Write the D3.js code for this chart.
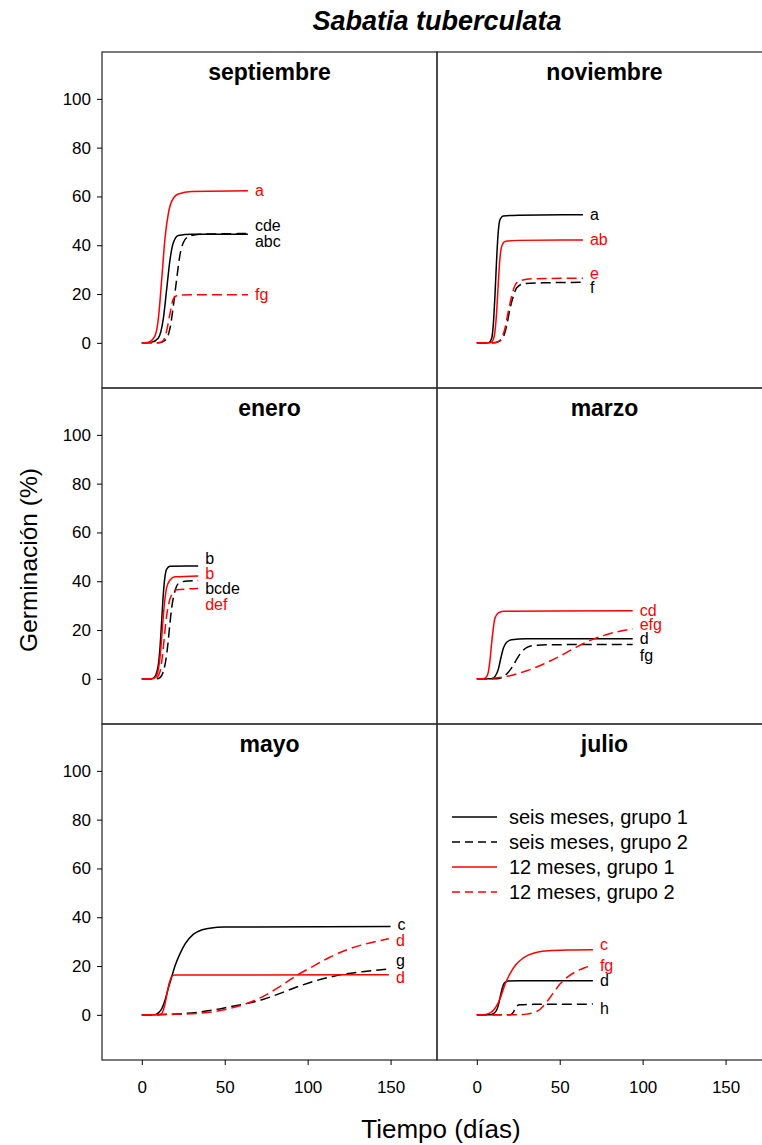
<!DOCTYPE html>
<html>
<head>
<meta charset="utf-8">
<script src="https://cdn.jsdelivr.net/npm/d3@7"></script>
<style>
  body { margin: 0; background: #fff; }
  svg { display: block; font-family: "Liberation Sans", Arial, sans-serif; }
</style>
</head>
<body>
<div id="chart"></div>
<script>
// panels, in reading order
const months = ["septiembre", "noviembre", "enero", "marzo", "mayo", "julio"];

// series: seis meses g1, seis meses g2, 12 meses g1, 12 meses g2
const seriesNames = ["seis meses, grupo 1", "seis meses, grupo 2", "12 meses, grupo 1", "12 meses, grupo 2"];

// curves, [day, % germinated]
const septiembre = [
    [[0,0],[6,0.3],[10,2],[13,10],[15,22],[17,34],[19,41],[22,44],[30,44.5],[64,44.5]],
    [[0,0],[10,0],[14,1],[17,6],[19,15],[21,26],[23,36],[25,41],[28,43.5],[35,44.5],[64,44.8]],
    [[0,0],[4,0.3],[8,3],[10,10],[12,26],[14,43],[16,53],[18,58],[22,61],[30,62],[64,62.3]],
    [[0,0],[10,0],[13,1],[15,5],[17,12],[19,18],[22,19.5],[30,19.7],[64,19.7]]
];
const noviembre = [
    [[0,0],[7,0],[9,2],[10,8],[11,20],[12,35],[13,46],[14,50.5],[16,52],[25,52.3],[64,52.5]],
    [[0,0],[10,0],[13,0.5],[16,2.5],[18,7],[20,14],[22,19],[24,22.5],[28,24.2],[40,24.6],[64,24.8]],
    [[0,0],[8,0],[10,1.5],[11,5],[12,13],[13,25],[14,35],[15,39.5],[17,41.5],[25,42],[64,42.2]],
    [[0,0],[10,0],[13,0.5],[15,2],[17,6],[19,13],[21,19],[23,23.5],[26,25.5],[35,26.3],[64,26.5]]
];
const enero = [
    [[0,0],[6,0],[8,1],[10,6],[11,13],[12,24],[13,35],[14,42],[15,45],[17,46.2],[34,46.3]],
    [[0,0],[9,0],[11,0.5],[13,3],[15,10],[16,16],[17,23],[18,29],[20,36],[22,39],[26,40],[34,40.3]],
    [[0,0],[6,0],[8,0.5],[10,4],[11,9],[12,17],[13,26],[14,33],[15,37.5],[17,40.5],[20,41.8],[34,42.2]],
    [[0,0],[7,0],[9,0.5],[11,3],[12,7],[13,13],[14,20],[15,26],[16,30],[18,34.5],[21,36.5],[34,37]]
];
const marzo = [
    [[0,0],[9,0],[11,1],[13,4],[14,7],[15,10],[16,12.5],[18,15],[21,16],[30,16.4],[94,16.4]],
    [[0,0],[12,0],[15,0.5],[18,2],[21,4.5],[24,8],[27,11],[30,12.8],[34,13.6],[45,14],[94,14.1]],
    [[0,0],[4,0],[6,1],[7,3],[8,8],[9,15],[10,21],[11,25],[13,27],[16,27.7],[94,27.9]],
    [[0,0],[10,0.3],[20,1.3],[30,3.3],[40,6],[50,9.3],[60,13],[70,16.2],[80,18.5],[94,20.5]]
];
const mayo = [
    [[0,0],[8,0],[10,0.8],[12,2.5],[14,6],[16,11],[18,15.5],[20,20],[23,25],[26,29],[31,33],[36,34.8],[41,35.5],[50,36],[150,36.2]],
    [[0,0],[15,0.2],[33,1],[43,2],[53,3.3],[63,4.6],[73,6.3],[83,8.7],[93,11.3],[103,13.6],[113,15.4],[123,16.8],[133,17.7],[149,18.8]],
    [[0,0],[10,0],[12,0.5],[13,2],[14,4.5],[15,8],[16,11.5],[17,14],[18,15.7],[20,16.3],[149,16.4]],
    [[0,0],[20,0.2],[33,0.6],[43,1.3],[53,2.6],[63,4.6],[73,7.5],[83,11.5],[93,16],[103,19.8],[113,23.5],[123,26.5],[133,28.7],[143,30.3],[149,31.2]]
];
const julio = [
    [[0,0],[8,0],[10,0.5],[12,2],[13,4],[14,7],[15,10],[16,12.3],[17,13.3],[19,13.9],[25,14],[70,14]],
    [[0,0],[20,0],[21,0.3],[22,1],[23,2.5],[24,3.6],[26,4.1],[35,4.3],[70,4.4]],
    [[0,0],[4,0],[7,0.5],[9,1.2],[11,2.7],[13,5],[15,8.5],[17,12.5],[19,15.5],[21,18],[23.5,20.5],[27,22.8],[31,24.5],[37,25.8],[43,26.3],[55,26.6],[70,26.7]],
    [[0,0],[25,0],[30,0.3],[34,0.8],[38,2.2],[41,4.3],[44,7],[47,9.8],[50,12.5],[53,14.6],[56,16.2],[60,17.8],[65,19.3],[70,20.3]]
];
const curves = [septiembre, noviembre, enero, marzo, mayo, julio];

// significance letters at the end of each curve (same series order)
const letters = [
    ["cde", "abc", "a", "fg"],
    ["a", "f", "ab", "e"],
    ["b", "bcde", "b", "def"],
    ["d", "fg", "cd", "efg"],
    ["c", "g", "d", "d"],
    ["d", "h", "c", "fg"]
];
// small vertical nudge (px) so letters don't sit on top of each other
const letterNudge = [
    [-9, 8, 0, 0],
    [0, 5, 0, -5],
    [-7, 8, -2, 16],
    [0, 11, 0, -4],
    [-2, -9, 3, 2],
    [0, 4, -5, 0]
];

const xTicks = [0, 50, 100, 150];
const yTicks = [0, 20, 40, 60, 80, 100];

const W = 762, H = 1145;
const padLeft = 102, padTop = 52, pw = 335, ph = 336;
const colors = ["#000", "#000", "#ff0000", "#ff0000"];
const dashes = [null, "10,5", null, "10,5"];

const svg = d3.select("#chart").append("svg")
    .attr("width", W)
    .attr("height", H);

const x = d3.scaleLinear().domain([-24, 178]).range([0, pw]);
const y = d3.scaleLinear().domain([-18.5, 119.2]).range([ph, 0]);

const line = d3.line()
    .x(d => x(d[0]))
    .y(d => y(d[1]))
    .curve(d3.curveMonotoneX);

months.forEach(function(m, i) {
    const col = i % 2, row = Math.floor(i / 2);
    const g = svg.append("g")
        .attr("transform", `translate(${padLeft + col * pw},${padTop + row * ph})`);

    g.append("rect")
        .attr("width", pw).attr("height", ph)
        .attr("fill", "none")
        .attr("stroke", "#333")
        .attr("stroke-width", 1.3);

    g.append("text")
        .attr("x", pw / 2).attr("y", 28)
        .attr("text-anchor", "middle")
        .style("font-size", "23px")
        .style("font-weight", "bold")
        .text(m);

    curves[i].forEach(function(pts, s) {
        g.append("path")
            .attr("d", line(pts))
            .attr("fill", "none")
            .attr("stroke", colors[s])
            .attr("stroke-width", 1.5)
            .attr("stroke-dasharray", dashes[s]);

        const last = pts[pts.length - 1];
        g.append("text")
            .attr("x", x(last[0]) + 7)
            .attr("y", y(last[1]) + letterNudge[i][s])
            .attr("dy", "0.35em")
            .attr("fill", colors[s])
            .style("font-size", "16px")
            .text(letters[i][s]);
    });

    if (col === 0) {
        const ay = g.append("g")
            .call(d3.axisLeft(y).tickValues(yTicks).tickSize(5).tickPadding(6));
        ay.select(".domain").remove();
        ay.selectAll("text").style("font-size", "17px").attr("font-family", null);
    }
    if (row === 2) {
        const ax = g.append("g")
            .attr("transform", `translate(0,${ph})`)
            .call(d3.axisBottom(x).tickValues(xTicks).tickSize(5).tickPadding(16));
        ax.select(".domain").remove();
        ax.selectAll("text").style("font-size", "17px").attr("font-family", null);
    }

    // legend lives in the julio panel
    if (m === "julio") {
        const lg = g.append("g").attr("transform", "translate(15,93)");
        seriesNames.forEach(function(name, s) {
            const r = lg.append("g").attr("transform", `translate(0,${s * 25})`);
            r.append("line")
                .attr("x1", 0).attr("x2", 45)
                .attr("stroke", colors[s])
                .attr("stroke-width", 1.3)
                .attr("stroke-dasharray", dashes[s] ? "8,5" : null);
            r.append("text")
                .attr("x", 57).attr("dy", "0.35em")
                .style("font-size", "20px")
                .text(name);
        });
    }
});

svg.append("text")
    .attr("x", 437).attr("y", 30)
    .attr("text-anchor", "middle")
    .style("font-size", "27px")
    .style("font-weight", "bold")
    .style("font-style", "italic")
    .text("Sabatia tuberculata");

svg.append("text")
    .attr("transform", "translate(37,560) rotate(-90)")
    .attr("text-anchor", "middle")
    .style("font-size", "24.5px")
    .text("Germinación (%)");

svg.append("text")
    .attr("x", 441).attr("y", 1138)
    .attr("text-anchor", "middle")
    .style("font-size", "26px")
    .text("Tiempo (días)");
</script>
</body>
</html>
